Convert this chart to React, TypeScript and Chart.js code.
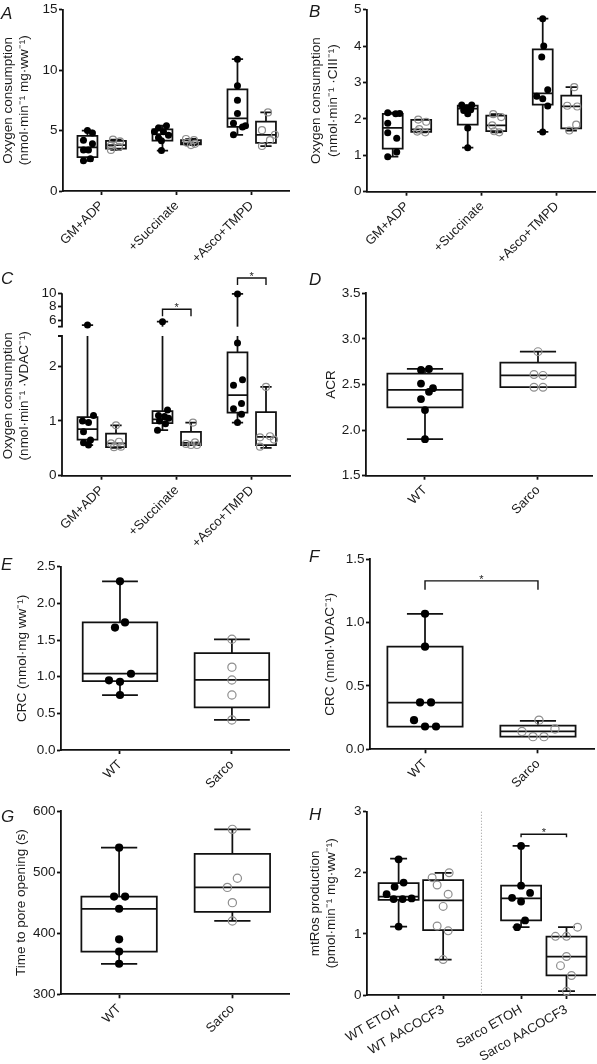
import React, { useEffect, useRef } from 'react';
import { Chart, registerables, LinearScale } from 'chart.js';

Chart.register(...registerables);

// ---------------- DATA ----------------
const catsABC = ['GM+ADP', '+Succinate', '+Asco+TMPD'];
const catsWS = ['WT', 'Sarco'];
const catsH = ['WT ETOH', 'WT AACOCF3', 'Sarco ETOH', 'Sarco AACOCF3'];

// Panel A
const wtPtsA = [
  [5.0, 4.8, 4.2, 3.9, 3.4, 3.4, 2.66, 2.5],
  [5.4, 5.2, 4.9, 4.9, 4.6, 4.4, 4.16, 3.34],
  [10.9, 8.7, 7.5, 6.4, 5.6, 5.4, 5.3, 4.65],
];
const sarcoPtsA = [
  [4.25, 4.1, 3.75, 3.65, 3.4],
  [4.3, 4.2, 4.0, 3.9, 3.8],
  [6.5, 5.03, 4.65, 4.2, 3.72],
];
const wtBoxA = [
  [2.5, 2.8, 3.6, 4.56, 5.0],
  [3.34, 4.16, 4.7, 5.1, 5.4],
  [4.65, 5.3, 6.0, 8.4, 10.9],
];
const sarcoBoxA = [
  [3.4, 3.5, 3.8, 4.15, 4.25],
  [3.8, 3.85, 4.0, 4.2, 4.3],
  [3.72, 3.97, 4.65, 5.73, 6.5],
];

// Panel B
const wtPtsB = [
  [2.17, 2.15, 2.14, 1.88, 1.62, 1.47, 1.09, 0.96],
  [2.38, 2.38, 2.3, 2.25, 2.23, 2.14, 1.75, 1.21],
  [4.75, 4.0, 3.7, 2.8, 2.62, 2.55, 2.35, 1.64],
];
const sarcoPtsB = [
  [1.98, 1.92, 1.72, 1.65, 1.63],
  [2.13, 2.05, 1.82, 1.66, 1.63],
  [2.87, 2.36, 2.34, 1.84, 1.68],
];
const wtBoxB = [
  [0.96, 1.18, 1.75, 2.14, 2.17],
  [1.21, 1.84, 2.28, 2.36, 2.38],
  [1.64, 2.39, 2.7, 3.91, 4.75],
];
const sarcoBoxB = [
  [1.63, 1.64, 1.71, 1.97, 1.98],
  [1.63, 1.66, 1.82, 2.09, 2.13],
  [1.68, 1.74, 2.34, 2.64, 2.87],
];

// Panel C (broken axis)
const wtPtsC = [
  [5.25, 1.1, 1.0, 0.97, 0.8, 0.65, 0.6, 0.56],
  [5.75, 1.2, 1.1, 1.08, 1.05, 1.0, 0.95, 0.83],
  [9.9, 2.42, 1.75, 1.65, 1.32, 1.22, 1.12, 0.97],
];
const sarcoPtsC = [
  [0.92, 0.62, 0.59, 0.53, 0.52],
  [0.97, 0.61, 0.58, 0.56, 0.56],
  [1.62, 0.72, 0.7, 0.66, 0.53],
];
const wtBoxC = [
  [0.56, 0.66, 0.85, 1.07, 5.25],
  [0.83, 0.96, 1.03, 1.18, 5.75],
  [0.97, 1.15, 1.47, 2.25, 9.9],
];
const sarcoBoxC = [
  [0.51, 0.52, 0.59, 0.77, 0.92],
  [0.56, 0.56, 0.6, 0.8, 0.97],
  [0.51, 0.56, 0.71, 1.16, 1.62],
];
const ticksC = [0, 1, 2, 6, 8, 10];
const sigC = [
  [1, 7.6],
  [2, 12.3],
];

// Panel D
const wtPtsD = [2.67, 2.66, 2.51, 2.46, 2.42, 2.34, 2.22, 1.9];
const sarcoPtsD = [2.86, 2.61, 2.6, 2.47, 2.47];
const wtBoxD = [1.9, 2.25, 2.44, 2.62, 2.67];
const sarcoBoxD = [2.47, 2.47, 2.6, 2.74, 2.86];

// Panel E
const wtPtsE = [2.3, 1.74, 1.67, 1.04, 0.95, 0.93, 0.75];
const sarcoPtsE = [1.51, 1.13, 0.955, 0.75, 0.41];
const wtBoxE = [0.75, 0.94, 1.04, 1.74, 2.3];
const sarcoBoxE = [0.41, 0.58, 0.955, 1.32, 1.51];

// Panel F
const wtPtsF = [1.07, 0.81, 0.37, 0.37, 0.23, 0.18, 0.18];
const sarcoPtsF = [0.23, 0.16, 0.14, 0.1, 0.1];
const wtBoxF = [0.18, 0.18, 0.368, 0.81, 1.07];
const sarcoBoxF = [0.1, 0.1, 0.142, 0.187, 0.224];
const sigF = [0, 1, 1.33];

// Panel G
const wtPtsG = [540, 460, 460, 440, 390, 370, 350];
const sarcoPtsG = [570, 490, 475, 450, 420];
const wtBoxG = [350, 370, 440, 460, 540];
const sarcoBoxG = [420, 435, 475, 530, 570];

// Panel H
const ptsH = [
  [2.22, 1.84, 1.77, 1.65, 1.58, 1.57, 1.57, 1.12],
  [2.0, 1.92, 1.8, 1.65, 1.45, 1.13, 1.05, 0.58],
  [2.44, 1.79, 1.67, 1.59, 1.53, 1.22, 1.11],
  [1.11, 0.96, 0.96, 0.63, 0.48, 0.32, 0.06],
];
const boxH = [
  [1.12, 1.555, 1.61, 1.83, 2.23],
  [0.58, 1.06, 1.55, 1.88, 2.0],
  [1.11, 1.22, 1.58, 1.79, 2.44],
  [0.065, 0.32, 0.63, 0.955, 1.11],
];
const sigH = [2, 3, 2.63];

// ---------------- LAYOUT (jitter in px, positions) ----------------
const jitWtA = [[0, 5, -4, 5, -4, 1, 3, -4], [4, -4, -8, 1, 6, -4, -1, -1], [0, 0, 0, 0, -4, 8, 5, -4]];
const jitSaA = [[-3, 4, -5, 3, -5], [-5, 3, -4, 4, 0], [2, -4, 9, 4, -4]];
const jitWtB = [[-5, 7, 3, -5, -5, 4, 4, -5], [-6, 4, -1, 3, -4, 0, 0, 0], [0, 1, -1, 5, -6, 0, 5, 0]];
const jitSaB = [[-3, 5, -2, -4, 4], [-3, 5, -4, -2, 3], [3, -4, 6, 5, -2]];
const jitWtC = [[0, 6, -5, 1, -4, 3, -4, 1], [0, 5, -4, 2, 6, -3, 3, -5], [0, 0, 5, -4, 4, -4, 4, 0]];
const jitSaC = [[0, 3, -5, 5, -2], [2, 4, -5, 0, 6], [0, 4, -6, 8, -6]];
const jitWtD = [4, -4, -4, 8, 4, -4, 0, 0];
const jitSaD = [0, -4, 5, -4, 5];
const jitWtE = [0, 5, -5, 11, -11, 0, 0];
const jitSaE = [0, 0, 0, 0, 0];
const jitWtF = [0, 0, -5, 6, -11, 0, 11];
const jitSaF = [1, 17, -16, -5, 6];
const jitWtG = [0, -5, 6, 0, 0, 0, 0];
const jitSaG = [0, 5, -5, 0, 0];
const jitH = [[0, 5, -4, -12, 13, -5, 4, 0], [6, -11, -6, 5, 0, -6, 5, 0], [0, 0, 9, -9, 0, 4, -4], [11, -11, 0, 0, -6, 5, 0]];
const posH = [0, 1, 2.75, 3.77];

const FONT = '"Liberation Sans", Arial, Helvetica, sans-serif';
const INK = '#1a1a1a';
const LINE = '#111111';
const GREY = '#8e8e8e';
const TICK_SIZE = 13.5;
const XLAB_SIZE = 13;
const TITLE_SIZE = 13.5;

// broken axis parameters for panel C
const BRK = { lowMax: 2.55, highMin: 5, lowFrac: 0.766, gapFrac: 0.051 };

class BrokenScale extends LinearScale {
  static id = 'broken';
  getPixelForValue(value: number) {
    const top = (this as any).top as number;
    const bottom = (this as any).bottom as number;
    const min = (this as any).min as number;
    const max = (this as any).max as number;
    const h = bottom - top;
    const lowH = h * BRK.lowFrac;
    const gapH = h * BRK.gapFrac;
    const highH = h - lowH - gapH;
    if (value <= BRK.lowMax) return bottom - ((value - min) / (BRK.lowMax - min)) * lowH;
    if (value >= BRK.highMin) return bottom - lowH - gapH - ((value - BRK.highMin) / (max - BRK.highMin)) * highH;
    return bottom - lowH - ((value - BRK.lowMax) / (BRK.highMin - BRK.lowMax)) * gapH;
  }
  getValueForPixel(pixel: number) {
    const bottom = (this as any).bottom as number;
    const top = (this as any).top as number;
    const lowH = (bottom - top) * BRK.lowFrac;
    return ((bottom - pixel) / lowH) * BRK.lowMax;
  }
}
Chart.register(BrokenScale as any);

type Grp = { x: number; box: number[]; pts: number[]; jit: number[]; filled: boolean };
type Bracket = { x0: number; x1: number; y: number; drop: number };

interface PanelSpec {
  key: string;
  rect: { left: number; top: number; w: number; h: number };
  area: { l: number; t: number; r: number; b: number };
  xMin: number;
  xMax: number;
  ppu: number;
  tickPos: number[];
  tickLabels: string[];
  rot: number;
  yMin: number;
  yMax: number;
  yStep?: number;
  yTicks?: number[];
  yFmt: (v: number) => string;
  yTitle: string | string[];
  titlePad: number;
  groups: Grp[];
  boxHalf: number;
  capHalf: number;
  ptR: number;
  brackets: Bracket[];
  broken?: boolean;
  divider?: number;
}

const OFF = 0.19;
function abcGroups(wtPts: number[][], saPts: number[][], wtBox: number[][], saBox: number[][], jw: number[][], js: number[][]): Grp[] {
  const out: Grp[] = [];
  for (let i = 0; i < 3; i++) {
    out.push({ x: i - OFF, box: wtBox[i], pts: wtPts[i], jit: jw[i], filled: true });
    out.push({ x: i + OFF, box: saBox[i], pts: saPts[i], jit: js[i], filled: false });
  }
  return out;
}
function wsGroups(wtPts: number[], saPts: number[], wtBox: number[], saBox: number[], jw: number[], js: number[]): Grp[] {
  return [
    { x: 0, box: wtBox, pts: wtPts, jit: jw, filled: true },
    { x: 1, box: saBox, pts: saPts, jit: js, filled: false },
  ];
}

const fmt0 = (v: number) => String(v);
const fmt1 = (v: number) => v.toFixed(1);

const panels: PanelSpec[] = [
  {
    key: 'A',
    rect: { left: 0, top: 0, w: 297, h: 280 },
    area: { l: 63, t: 7.5, r: 289, b: 191 },
    xMin: -0.516, xMax: 2.497, ppu: 75,
    tickPos: [0, 1, 2], tickLabels: catsABC, rot: 45,
    yMin: 0, yMax: 15, yStep: 5, yFmt: fmt0,
    yTitle: ['Oxygen consumption', '(nmol·min⁻¹ mg·ww⁻¹)'], titlePad: 0,
    groups: abcGroups(wtPtsA, sarcoPtsA, wtBoxA, sarcoBoxA, jitWtA, jitSaA),
    boxHalf: 0.133, capHalf: 0.075, ptR: 3.5, brackets: [],
  },
  {
    key: 'B',
    rect: { left: 297, top: 0, w: 300, h: 280 },
    area: { l: 367, t: 8.2, r: 595, b: 191.7 },
    xMin: -0.533, xMax: 2.507, ppu: 75,
    tickPos: [0, 1, 2], tickLabels: catsABC, rot: 45,
    yMin: 0, yMax: 5, yStep: 1, yFmt: fmt0,
    yTitle: ['Oxygen consumption', '(nmol·min⁻¹ ·CIII⁻¹)'], titlePad: 11.5,
    groups: abcGroups(wtPtsB, sarcoPtsB, wtBoxB, sarcoBoxB, jitWtB, jitSaB),
    boxHalf: 0.133, capHalf: 0.075, ptR: 3.5, brackets: [],
  },
  {
    key: 'C',
    rect: { left: 0, top: 265, w: 297, h: 285 },
    area: { l: 62, t: 293.3, r: 290, b: 475.7 },
    xMin: -0.53, xMax: 2.51, ppu: 75,
    tickPos: [0, 1, 2], tickLabels: catsABC, rot: 45,
    yMin: 0, yMax: 10, yTicks: ticksC, yFmt: fmt0,
    yTitle: ['Oxygen consumption\u00a0\u00a0\u00a0\u00a0\u00a0\u00a0', '(nmol·min⁻¹ ·VDAC⁻¹)\u00a0\u00a0\u00a0\u00a0\u00a0\u00a0'], titlePad: 0,
    groups: abcGroups(wtPtsC, sarcoPtsC, wtBoxC, sarcoBoxC, jitWtC, jitSaC),
    boxHalf: 0.133, capHalf: 0.075, ptR: 3.5,
    brackets: sigC.map(([c, y]) => ({ x0: c - OFF, x1: c + OFF, y, drop: 7 })),
    broken: true,
  },
  {
    key: 'D',
    rect: { left: 297, top: 265, w: 300, h: 285 },
    area: { l: 366, t: 293.3, r: 592, b: 475.7 },
    xMin: -0.522, xMax: 1.478, ppu: 113,
    tickPos: [0, 1], tickLabels: catsWS, rot: 45,
    yMin: 1.5, yMax: 3.5, yStep: 0.5, yFmt: fmt1,
    yTitle: 'ACR', titlePad: 26.5,
    groups: wsGroups(wtPtsD, sarcoPtsD, wtBoxD, sarcoBoxD, jitWtD, jitSaD),
    boxHalf: 0.333, capHalf: 0.16, ptR: 3.9, brackets: [],
  },
  {
    key: 'E',
    rect: { left: 0, top: 530, w: 297, h: 285 },
    area: { l: 61, t: 566.7, r: 289, b: 750 },
    xMin: -0.527, xMax: 1.51, ppu: 112,
    tickPos: [0, 1], tickLabels: catsWS, rot: 45,
    yMin: 0, yMax: 2.5, yStep: 0.5, yFmt: fmt1,
    yTitle: 'CRC (nmol·mg ww⁻¹)', titlePad: 14,
    groups: wsGroups(wtPtsE, sarcoPtsE, wtBoxE, sarcoBoxE, jitWtE, jitSaE),
    boxHalf: 0.333, capHalf: 0.16, ptR: 4.1, brackets: [],
  },
  {
    key: 'F',
    rect: { left: 297, top: 530, w: 300, h: 285 },
    area: { l: 370, t: 559.3, r: 594, b: 749.3 },
    xMin: -0.487, xMax: 1.496, ppu: 113,
    tickPos: [0, 1], tickLabels: catsWS, rot: 45,
    yMin: 0, yMax: 1.5, yStep: 0.5, yFmt: fmt1,
    yTitle: 'CRC (nmol·VDAC⁻¹)', titlePad: 25,
    groups: wsGroups(wtPtsF, sarcoPtsF, wtBoxF, sarcoBoxF, jitWtF, jitSaF),
    boxHalf: 0.333, capHalf: 0.16, ptR: 4.1,
    brackets: [{ x0: sigF[0], x1: sigF[1], y: sigF[2], drop: 9 }],
  },
  {
    key: 'G',
    rect: { left: 0, top: 795, w: 297, h: 269 },
    area: { l: 61, t: 811, r: 289, b: 994.3 },
    xMin: -0.513, xMax: 1.5, ppu: 113,
    tickPos: [0, 1], tickLabels: catsWS, rot: 45,
    yMin: 300, yMax: 600, yStep: 100, yFmt: fmt0,
    yTitle: 'Time to pore opening (s)', titlePad: 13.5,
    groups: wsGroups(wtPtsG, sarcoPtsG, wtBoxG, sarcoBoxG, jitWtG, jitSaG),
    boxHalf: 0.333, capHalf: 0.16, ptR: 4.1, brackets: [],
  },
  {
    key: 'H',
    rect: { left: 297, top: 795, w: 300, h: 269 },
    area: { l: 367, t: 811.7, r: 595, b: 995 },
    xMin: -0.71, xMax: 4.41, ppu: 44.5,
    tickPos: posH, tickLabels: catsH, rot: 30,
    yMin: 0, yMax: 3, yStep: 1, yFmt: fmt0,
    yTitle: ['mtRos production', '(pmol·min⁻¹ mg·ww⁻¹)'], titlePad: 10,
    groups: ptsH.map((p, i) => ({ x: posH[i], box: boxH[i], pts: p, jit: jitH[i], filled: i % 2 === 0 })),
    boxHalf: 0.45, capHalf: 0.19, ptR: 3.9,
    brackets: [{ x0: posH[sigH[0]], x1: posH[sigH[1]], y: sigH[2], drop: 3 }],
    divider: 1.86,
  },
];

const letters = [
  { t: 'A', left: 1, top: 5 },
  { t: 'B', left: 309, top: 3 },
  { t: 'C', left: 1, top: 270 },
  { t: 'D', left: 309, top: 271 },
  { t: 'E', left: 1, top: 556 },
  { t: 'F', left: 309, top: 548 },
  { t: 'G', left: 1, top: 808 },
  { t: 'H', left: 309, top: 806 },
];

function buildConfig(p: PanelSpec): any {
  const relL = p.area.l - p.rect.left;
  const relT = p.area.t - p.rect.top;
  const relR = p.rect.w - (p.area.r - p.rect.left);
  const relB = p.area.b - p.rect.top;

  const filled: { x: number; y: number }[] = [];
  const open: { x: number; y: number }[] = [];
  p.groups.forEach((g) =>
    g.pts.forEach((v, i) => (g.filled ? filled : open).push({ x: g.x + (g.jit[i] || 0) / p.ppu, y: v }))
  );

  const gridOpts = {
    display: true,
    drawOnChartArea: false,
    drawTicks: true,
    tickLength: 4,
    tickColor: LINE,
    tickWidth: 1.8,
  };

  const boxPlugin = {
    id: 'boxes' + p.key,
    beforeDatasetsDraw(chart: any) {
      const { ctx, chartArea: ca } = chart;
      const xs = chart.scales.x;
      const ys = chart.scales.y;
      ctx.save();
      if (p.divider !== undefined) {
        const xd = xs.getPixelForValue(p.divider);
        ctx.strokeStyle = '#a8a8a8';
        ctx.lineWidth = 1;
        ctx.setLineDash([1.2, 1.8]);
        ctx.beginPath();
        ctx.moveTo(xd, ca.top);
        ctx.lineTo(xd, ca.bottom);
        ctx.stroke();
        ctx.setLineDash([]);
      }
      ctx.strokeStyle = LINE;
      ctx.lineWidth = 1.75;
      ctx.lineCap = 'butt';
      for (const g of p.groups) {
        const x0 = xs.getPixelForValue(g.x - p.boxHalf);
        const x1 = xs.getPixelForValue(g.x + p.boxHalf);
        const xm = xs.getPixelForValue(g.x);
        const c0 = xs.getPixelForValue(g.x - p.capHalf);
        const c1 = xs.getPixelForValue(g.x + p.capHalf);
        const [mn, q1, md, q3, mx] = g.box.map((v) => ys.getPixelForValue(v));
        ctx.beginPath();
        ctx.rect(x0, q3, x1 - x0, q1 - q3);
        ctx.moveTo(x0, md);
        ctx.lineTo(x1, md);
        ctx.moveTo(xm, q3);
        ctx.lineTo(xm, mx);
        ctx.moveTo(xm, q1);
        ctx.lineTo(xm, mn);
        ctx.moveTo(c0, mx);
        ctx.lineTo(c1, mx);
        ctx.moveTo(c0, mn);
        ctx.lineTo(c1, mn);
        ctx.stroke();
      }
      if (p.broken) {
        const yLow = ys.getPixelForValue(BRK.lowMax);
        const yHigh = ys.getPixelForValue(BRK.highMin);
        ctx.fillStyle = '#ffffff';
        ctx.fillRect(ca.left + 1, yHigh, ca.right - ca.left, yLow - yHigh);
        ctx.strokeStyle = LINE;
        ctx.lineWidth = 1.8;
        ctx.beginPath();
        ctx.moveTo(ca.left, ca.bottom);
        ctx.lineTo(ca.left, yLow);
        ctx.lineTo(ca.left - 4, yLow);
        ctx.moveTo(ca.left - 4, yHigh);
        ctx.lineTo(ca.left, yHigh);
        ctx.lineTo(ca.left, ca.top);
        ctx.stroke();
      }
      ctx.restore();
    },
    afterDatasetsDraw(chart: any) {
      const { ctx } = chart;
      const xs = chart.scales.x;
      const ys = chart.scales.y;
      ctx.save();
      ctx.strokeStyle = LINE;
      ctx.lineWidth = 1.4;
      for (const b of p.brackets) {
        const xa = xs.getPixelForValue(b.x0);
        const xb = xs.getPixelForValue(b.x1);
        const yb = ys.getPixelForValue(b.y);
        ctx.beginPath();
        ctx.moveTo(xa, yb + b.drop);
        ctx.lineTo(xa, yb);
        ctx.lineTo(xb, yb);
        ctx.lineTo(xb, yb + b.drop);
        ctx.stroke();
        ctx.fillStyle = INK;
        ctx.font = `11px ${FONT}`;
        ctx.textAlign = 'center';
        ctx.textBaseline = 'alphabetic';
        ctx.fillText('*', (xa + xb) / 2, yb + 2);
      }
      ctx.restore();
    },
  };

  const yScale: any = {
    type: p.broken ? 'broken' : 'linear',
    min: p.yMin,
    max: p.yMax,
    bounds: 'data',
    ticks: {
      stepSize: p.yStep,
      autoSkip: false,
      callback: (v: number) => p.yFmt(v),
      font: { family: FONT, size: TICK_SIZE },
      color: INK,
      padding: 1.5,
    },
    grid: gridOpts,
    border: { display: !p.broken, color: LINE, width: 1.8 },
    title: {
      display: true,
      text: p.yTitle,
      font: { family: FONT, size: TITLE_SIZE, lineHeight: 1.2 },
      color: INK,
      padding: { top: p.titlePad, bottom: 0 },
    },
    afterFit: (s: any) => {
      s.width = relL;
    },
  };
  if (p.yTicks) {
    const yt = p.yTicks;
    yScale.afterBuildTicks = (s: any) => {
      s.ticks = yt.map((v) => ({ value: v }));
    };
  }

  return {
    type: 'scatter',
    data: {
      datasets: [
        {
          data: filled,
          pointRadius: p.ptR,
          pointBackgroundColor: '#000000',
          pointBorderColor: '#000000',
          pointBorderWidth: 0,
          showLine: false,
          clip: false,
        },
        {
          data: open,
          pointRadius: p.ptR,
          pointBackgroundColor: 'rgba(255,255,255,0)',
          pointBorderColor: GREY,
          pointBorderWidth: 1.2,
          showLine: false,
          clip: false,
        },
      ],
    },
    options: {
      animation: false,
      responsive: false,
      events: [],
      layout: { autoPadding: false, padding: { left: 0, top: relT, right: relR, bottom: 0 } },
      plugins: { legend: { display: false }, tooltip: { enabled: false } },
      scales: {
        x: {
          type: 'linear',
          min: p.xMin,
          max: p.xMax,
          bounds: 'data',
          afterBuildTicks: (s: any) => {
            s.ticks = p.tickPos.map((v) => ({ value: v }));
          },
          ticks: {
            autoSkip: false,
            minRotation: p.rot,
            maxRotation: p.rot,
            callback: (_v: number, i: number) => p.tickLabels[i],
            font: { family: FONT, size: XLAB_SIZE },
            color: INK,
            padding: 3,
          },
          grid: gridOpts,
          border: { display: true, color: LINE, width: 1.8 },
          afterFit: (s: any) => {
            s.height = p.rect.h - relB;
          },
        },
        y: yScale,
      },
    },
    plugins: [boxPlugin],
  };
}

function Panel({ spec }: { spec: PanelSpec }) {
  const ref = useRef<HTMLCanvasElement>(null);
  useEffect(() => {
    if (!ref.current) return;
    const chart = new Chart(ref.current, buildConfig(spec));
    return () => chart.destroy();
  }, [spec]);
  return (
    <canvas
      ref={ref}
      width={spec.rect.w}
      height={spec.rect.h}
      style={{
        position: 'absolute',
        left: spec.rect.left,
        top: spec.rect.top,
        width: spec.rect.w,
        height: spec.rect.h,
      }}
    />
  );
}

export default function App() {
  return (
    <div
      style={{
        position: 'absolute',
        left: 0,
        top: 0,
        width: 597,
        height: 1064,
        background: '#ffffff',
        overflow: 'hidden',
      }}
    >
      {panels.map((p) => (
        <Panel key={p.key} spec={p} />
      ))}
      {letters.map((l) => (
        <div
          key={l.t}
          style={{
            position: 'absolute',
            left: l.left,
            top: l.top,
            fontFamily: FONT,
            fontStyle: 'italic',
            fontSize: 17,
            lineHeight: 1,
            color: INK,
          }}
        >
          {l.t}
        </div>
      ))}
    </div>
  );
}
